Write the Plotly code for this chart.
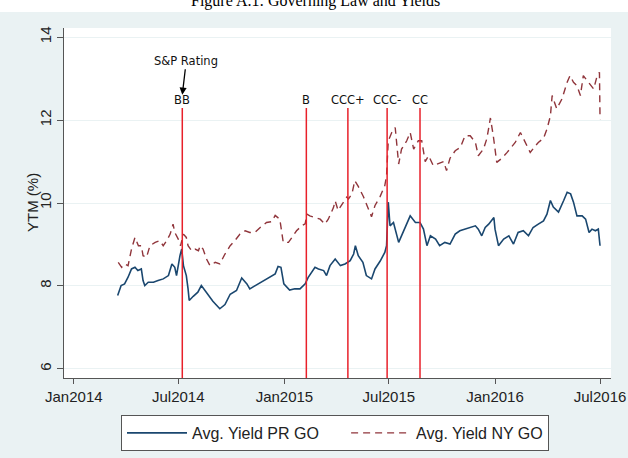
import pandas as pd
import plotly.graph_objects as go

# ---- data (day offsets from 2014-01-01, yields in %) ----
pr_days = [76, 82, 88, 94, 100, 106, 111, 117, 120, 123, 129, 138, 146, 155, 164, 170, 175, 178,
           184, 187, 190, 195, 198, 200, 207, 215, 221, 230, 241, 253, 262, 271, 282, 291, 300,
           305, 317, 329, 340, 349, 354, 359, 364, 374, 383, 392, 401, 406, 418, 424, 433, 438,
           444, 453, 462, 470, 479, 485, 488, 493, 501, 507, 516, 522, 531, 539, 542, 545, 548,
           554, 563, 568, 577, 583, 592, 600, 606, 612, 618, 627, 634, 643, 652, 661, 669, 678,
           687, 696, 701, 707, 713, 719, 728, 730, 736, 745, 754, 762, 770, 779, 788, 796, 805,
           814, 820, 826, 831, 840, 849, 855, 861, 866, 872, 881, 887, 893, 898, 904, 909, 912]
pr_yield = [7.77, 8.01, 8.05, 8.21, 8.41, 8.45, 8.37, 8.41, 8.13, 8.01, 8.09, 8.09, 8.13, 8.17,
            8.25, 8.53, 8.45, 8.25, 8.73, 8.89, 8.49, 8.25, 7.93, 7.65, 7.75, 7.85, 8.01, 7.85,
            7.63, 7.45, 7.55, 7.80, 7.89, 8.19, 8.05, 7.93, 8.03, 8.13, 8.21, 8.29, 8.47, 8.45,
            8.05, 7.90, 7.93, 7.93, 8.05, 8.20, 8.45, 8.41, 8.37, 8.25, 8.49, 8.65, 8.49, 8.53,
            8.61, 8.77, 8.97, 8.73, 8.57, 8.25, 8.17, 8.41, 8.60, 8.81, 8.97, 10.02, 9.45, 9.53,
            9.05, 9.21, 9.53, 9.69, 9.53, 9.53, 9.37, 8.97, 9.21, 9.13, 8.97, 9.05, 9.01, 9.25,
            9.33, 9.37, 9.41, 9.45, 9.37, 9.21, 9.41, 9.49, 9.65, 9.37, 8.97, 9.13, 9.21, 9.01,
            9.29, 9.33, 9.21, 9.41, 9.49, 9.57, 9.73, 10.06, 9.90, 9.78, 10.06, 10.26, 10.22,
            10.02, 9.69, 9.69, 9.61, 9.29, 9.37, 9.33, 9.37, 8.97]

ny_days = [77, 83, 88, 94, 100, 106, 112, 117, 120, 126, 132, 141, 149, 155, 161, 167, 172, 175,
           181, 185, 190, 195, 198, 204, 210, 216, 219, 224, 230, 236, 245, 253, 262, 271, 279,
           288, 297, 305, 314, 323, 334, 343, 349, 357, 363, 372, 378, 386, 395, 401, 404, 409,
           418, 427, 435, 441, 450, 453, 458, 467, 473, 476, 482, 487, 493, 502, 510, 516, 522,
           531, 539, 542, 545, 551, 557, 563, 568, 577, 583, 589, 597, 603, 609, 615, 623, 632,
           641, 646, 652, 661, 670, 678, 687, 696, 701, 710, 716, 722, 727, 733, 742, 751, 756,
           765, 774, 782, 791, 800, 805, 814, 820, 826, 829, 837, 846, 855, 860, 866, 872, 878,
           883, 892, 901, 907, 911, 912]
ny_yield = [8.57, 8.45, 8.53, 8.49, 8.89, 9.17, 8.97, 8.97, 8.73, 8.69, 8.97, 9.05, 9.09, 8.97,
            9.09, 9.25, 9.49, 9.29, 9.13, 8.97, 9.25, 9.17, 8.97, 8.85, 8.89, 8.85, 8.97, 8.89,
            8.65, 8.49, 8.57, 8.53, 8.77, 8.97, 9.09, 9.25, 9.33, 9.29, 9.29, 9.41, 9.53, 9.55,
            9.70, 9.61, 9.05, 9.05, 9.17, 9.33, 9.45, 9.50, 9.73, 9.69, 9.65, 9.61, 9.49, 9.61,
            9.89, 10.05, 9.82, 10.02, 10.14, 10.10, 10.22, 10.54, 10.40, 10.15, 9.86, 9.67, 9.94,
            10.16, 10.42, 10.66, 11.50, 11.70, 11.82, 10.94, 11.30, 11.50, 11.70, 11.30, 11.50,
            11.50, 11.00, 11.14, 10.90, 10.95, 11.00, 10.78, 11.08, 11.26, 11.34, 11.62, 11.62,
            11.46, 11.14, 11.30, 11.56, 12.05, 11.62, 10.98, 11.08, 11.22, 11.30, 11.46, 11.70,
            11.46, 11.22, 11.38, 11.46, 11.56, 11.78, 12.10, 12.59, 12.27, 12.51, 12.91, 13.07,
            12.91, 12.83, 12.59, 13.07, 12.91, 12.75, 13.07, 13.15, 12.02]

rating_labels = ["BB", "B", "CCC+", "CCC-", "CC"]
rating_days = [188, 403, 475, 543, 600]

tick_dates = ["2014-01-01", "2014-07-01", "2015-01-01", "2015-07-01", "2016-01-01", "2016-07-01"]
tick_text = ["Jan2014", "Jul2014", "Jan2015", "Jul2015", "Jan2016", "Jul2016"]
y_ticks = [6, 8, 10, 12, 14]

base = pd.Timestamp("2014-01-01")
to_dates = lambda d: [base + pd.Timedelta(days=int(v)) for v in d]

pr_x = to_dates(pr_days)
ny_x = to_dates(ny_days)
rating_x = to_dates(rating_days)

# plot-area geometry (pixels)
L, R, T, B = 64, 611, 28, 378
PW, PH = R - L, B - T
px2x = lambda p: (p - L) / PW
py2y = lambda p: (B - p) / PH

BG = "rgb(234,242,243)"
fig = go.Figure()
fig.add_trace(go.Scatter(x=pr_x, y=pr_yield, mode="lines",
                         name="Avg. Yield PR GO" + "&nbsp;" * 5,
                         line=dict(color="#1a476f", width=1.6)))
fig.add_trace(go.Scatter(x=ny_x, y=ny_yield, mode="lines", name="Avg. Yield NY GO",
                         line=dict(color="#90353b", width=1.4, dash="7px,5px")))

line_top = 12.29
for d, lab in zip(rating_x, rating_labels):
    fig.add_shape(type="line", xref="x", yref="y", x0=d, x1=d, y0=5.78, y1=line_top,
                  line=dict(color="#e8202a", width=1.5), layer="above")
    fig.add_annotation(x=d, y=line_top, xref="x", yref="y", text=lab, showarrow=False,
                       yanchor="bottom", yshift=-1,
                       font=dict(family="DejaVu Sans", size=11.5, color="#111"))

fig.add_annotation(x=rating_x[0], y=12.61, xref="x", yref="y", text="S&P Rating",
                   showarrow=True, arrowhead=2, arrowsize=1.1, arrowwidth=1.3,
                   arrowcolor="#000", ax=4, ay=-34,
                   font=dict(family="DejaVu Sans", size=11.5, color="#111"))

# y-axis title
fig.add_annotation(x=px2x(32), y=py2y(203), xref="paper", yref="paper", text="YTM (%)",
                   showarrow=False, textangle=-90, xanchor="center", yanchor="middle",
                   font=dict(family="Liberation Sans, Arial", size=15, color="#222"))

# caption strip at top (white) and title
fig.add_shape(type="rect", xref="paper", yref="paper", x0=-0.2, x1=1.2,
              y0=py2y(12), y1=1.3, fillcolor="white", line=dict(width=0), layer="below")
fig.add_annotation(x=px2x(315), y=py2y(12), xref="paper", yref="paper",
                   text="Figure A.1: Governing Law and Yields", showarrow=False,
                   yanchor="bottom", xanchor="center",
                   font=dict(family="Liberation Serif", size=16, color="#000"))

fig.update_layout(
    width=628, height=458,
    margin=dict(l=L, r=628 - R, t=T, b=458 - B, autoexpand=False),
    paper_bgcolor=BG, plot_bgcolor="white",
    font=dict(family="Liberation Sans, Arial", size=15, color="#222"),
    showlegend=True,
    legend=dict(orientation="h", x=px2x(335), xanchor="center",
                y=py2y(415), yanchor="top",
                bgcolor="white", bordercolor="#555", borderwidth=1,
                font=dict(size=16, color="#222"), itemwidth=60),
    xaxis=dict(range=[base - pd.Timedelta(days=17), base + pd.Timedelta(days=931)],
               tickvals=tick_dates, ticktext=tick_text, ticks="outside", ticklen=5,
               tickcolor="#555", showline=True, linecolor="#555", linewidth=1,
               showgrid=False, zeroline=False, tickfont=dict(size=15), automargin=False),
    yaxis=dict(range=[5.78, 14.22], tickvals=y_ticks, ticks="outside", ticklen=6,
               tickcolor="#555", showline=True, linecolor="#555", linewidth=1,
               showgrid=True, gridcolor="rgb(234,242,243)", gridwidth=1, zeroline=False,
               tickangle=-90, tickfont=dict(size=15), automargin=False),
)

fig.write_html("out.html")
